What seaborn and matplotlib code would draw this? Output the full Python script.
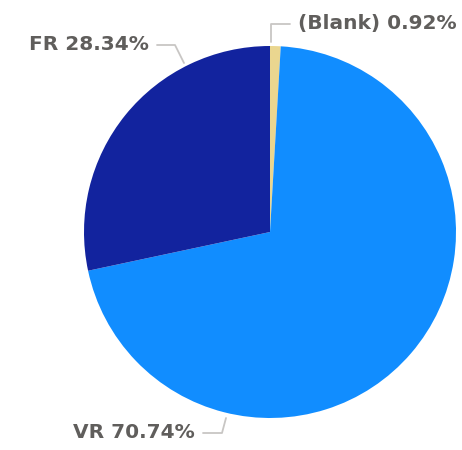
import numpy as np
import seaborn as sns
import matplotlib.pyplot as plt

# data
categories = ['(Blank)', 'VR', 'FR']
shares = [0.92, 70.74, 28.34]
colors = ['#EAD68F', '#118DFF', '#12239E']

sns.set_style('white')
plt.rcParams['font.family'] = ['DejaVu Sans']

fig = plt.figure(figsize=(4.62, 4.5), dpi=100)
# pie centre at (270, 232) px, radius 186 px
ax = fig.add_axes([84 / 462, 32 / 450, 372 / 462, 372 / 450])
wedges, _ = ax.pie(shares, colors=colors, startangle=90, counterclock=False,
                   radius=1, wedgeprops={'linewidth': 0})
ax.set_xlim(-1, 1)
ax.set_ylim(-1, 1)
ax.set_aspect('equal')
ax.axis('off')

s = 186.0  # px per data unit
def px(x, y):
    return ((x - 270) / s, (232 - y) / s)

# label layout: anchor on rim, elbow, text end (pixel space)
layout = {
    '(Blank)': [(271, 42), (271, 24), (290, 24), 'left'],
    'FR': [(184, 63), (175, 45), (157, 45), 'right'],
    'VR': [(226, 418), (222, 433), (203, 433), 'right'],
}
line_col = '#C8C6C4'
for cat, val in zip(categories, shares):
    a, b, c, ha = layout[cat]
    pts = [px(*a), px(*b), px(*c)]
    xs, ys = zip(*pts)
    ax.plot(xs, ys, color=line_col, lw=1.3, clip_on=False)
    off = 8 / s if ha == 'left' else -8 / s
    ax.text(pts[2][0] + off, pts[2][1], f'{cat} {val:.2f}%', ha=ha, va='center',
            fontsize=14.5, fontweight='bold', color='#605E5C', clip_on=False)

fig.savefig('out.png', dpi=100)
